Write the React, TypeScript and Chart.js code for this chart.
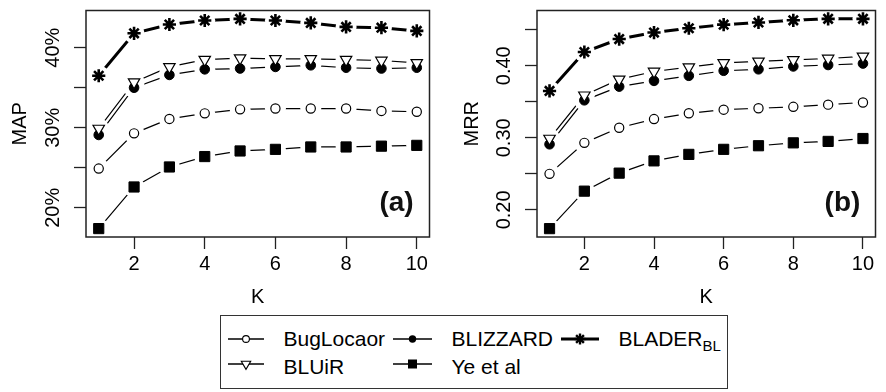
import React, { useEffect, useRef } from 'react';
import { Chart, registerables } from 'chart.js';

Chart.register(...registerables);

const FONT = '"Liberation Sans", Arial, Helvetica, sans-serif';

// ---------- data ----------
const K_VALUES = [1, 2, 3, 4, 5, 6, 7, 8, 9, 10];
const X_TICKS = [2, 4, 6, 8, 10];
const X_TITLE = 'K';

const SERIES_NAMES = ['BugLocaor', 'BLUiR', 'BLIZZARD', 'Ye et al', 'BLADER'];

const MAP_BUGLOCATOR = [24.9, 29.3, 31.1, 31.8, 32.3, 32.4, 32.4, 32.4, 32.1, 32.0];
const MAP_BLUIR = [29.9, 35.7, 37.6, 38.5, 38.7, 38.6, 38.6, 38.5, 38.4, 38.1];
const MAP_BLIZZARD = [29.1, 35.0, 36.6, 37.3, 37.4, 37.6, 37.8, 37.5, 37.4, 37.5];
const MAP_YE = [17.4, 22.6, 25.1, 26.4, 27.1, 27.3, 27.6, 27.6, 27.7, 27.8];
const MAP_BLADER = [36.5, 41.8, 42.9, 43.4, 43.6, 43.4, 43.1, 42.6, 42.5, 42.1];

const MRR_BUGLOCATOR = [0.25, 0.293, 0.314, 0.326, 0.334, 0.339, 0.341, 0.343, 0.346, 0.349];
const MRR_BLUIR = [0.299, 0.359, 0.381, 0.392, 0.398, 0.404, 0.406, 0.408, 0.41, 0.413];
const MRR_BLIZZARD = [0.291, 0.352, 0.371, 0.379, 0.386, 0.393, 0.395, 0.399, 0.401, 0.403];
const MRR_YE = [0.174, 0.226, 0.251, 0.268, 0.277, 0.284, 0.289, 0.293, 0.295, 0.299];
const MRR_BLADER = [0.365, 0.419, 0.437, 0.446, 0.452, 0.457, 0.46, 0.463, 0.465, 0.465];

const MAP_TICKS = [20, 25, 30, 35, 40];
const MAP_TICK_LABELS = ['20%', '', '30%', '', '40%'];
const MRR_TICKS = [0.2, 0.25, 0.3, 0.35, 0.4, 0.45];
const MRR_TICK_LABELS = ['0.20', '', '0.30', '', '0.40', ''];

const MAP_TITLE = 'MAP';
const MRR_TITLE = 'MRR';
const PANEL_A = '(a)';
const PANEL_B = '(b)';

// ---------- styles ----------
const STYLES = [
  { pointStyle: 'circle', radius: 4.6, fill: '#ffffff', pw: 1.2, lw: 1.2, rot: 0 },
  { pointStyle: 'triangle', radius: 6.6, fill: '#ffffff', pw: 1.2, lw: 1.2, rot: 180 },
  { pointStyle: 'circle', radius: 4.8, fill: '#000000', pw: 1, lw: 1.2, rot: 0 },
  { pointStyle: 'rect', radius: 7.2, fill: '#000000', pw: 1, lw: 1.2, rot: 0 },
  { pointStyle: 'star', radius: 6.6, fill: '#000000', pw: 2.6, lw: 3, rot: 0 },
];

// R "type = b": lines stop short of each point; emulated by a white halo layer
// drawn between the lines and the markers.
const GAP = 10.5;

const boxPlugin = {
  id: 'box',
  afterDatasetsDraw(chart: any, _args: any, opts: any) {
    const { ctx, chartArea: a } = chart;
    ctx.save();
    ctx.strokeStyle = '#222';
    ctx.lineWidth = 1.5;
    ctx.strokeRect(a.left, a.top, a.right - a.left, a.bottom - a.top);
    ctx.font = `bold 28px ${FONT}`;
    ctx.fillStyle = '#111';
    ctx.textAlign = 'center';
    ctx.textBaseline = 'middle';
    ctx.fillText(opts.label, a.right - 33, a.bottom - 34);
    ctx.restore();
  },
};

interface PanelCfg {
  series: number[][];
  yMin: number;
  yMax: number;
  yTicks: number[];
  yLabels: string[];
  yTitle: string;
  yTitlePad: number;
  yWidth: number;
  padRight: number;
  panel: string;
}

function makeChart(canvas: HTMLCanvasElement, cfg: PanelCfg) {
  const pts = (vals: number[]) => K_VALUES.map((k, j) => ({ x: k, y: vals[j] }));
  const lines = cfg.series.map((vals, i) => ({
    label: SERIES_NAMES[i],
    data: pts(vals),
    order: 3,
    borderColor: '#000',
    borderWidth: STYLES[i].lw,
    pointRadius: 0,
    fill: false,
    tension: 0,
    clip: false as any,
  }));
  const halos = cfg.series.map((vals, i) => ({
    label: SERIES_NAMES[i] + ' halo',
    data: pts(vals),
    order: 2,
    showLine: false,
    pointStyle: 'circle' as any,
    pointRadius: GAP,
    pointBackgroundColor: '#ffffff',
    pointBorderWidth: 0,
    clip: false as any,
  }));
  const markers = cfg.series.map((vals, i) => ({
    label: SERIES_NAMES[i] + ' marks',
    data: pts(vals),
    order: 1,
    showLine: false,
    pointStyle: STYLES[i].pointStyle as any,
    pointRadius: STYLES[i].radius,
    pointRotation: STYLES[i].rot,
    pointBackgroundColor: STYLES[i].fill,
    pointBorderColor: '#000',
    pointBorderWidth: STYLES[i].pw,
    clip: false as any,
  }));
  return new Chart(canvas, {
    type: 'line',
    data: { datasets: [...lines, ...halos, ...markers] },
    options: {
      responsive: false,
      animation: false,
      devicePixelRatio: 1,
      events: [],
      layout: { padding: { left: 0, top: 3, right: cfg.padRight, bottom: 0 } },
      plugins: {
        legend: { display: false },
        tooltip: { enabled: false },
        box: { label: cfg.panel },
      } as any,
      scales: {
        x: {
          type: 'linear',
          min: 0.64,
          max: 10.36,
          afterBuildTicks: (s: any) => {
            s.ticks = X_TICKS.map((v) => ({ value: v }));
          },
          afterFit: (s: any) => {
            s.height = 75;
            s.paddingLeft = 0;
            s.paddingRight = 0;
          },
          grid: {
            display: true,
            drawOnChartArea: false,
            drawTicks: true,
            tickLength: 12,
            tickColor: '#222',
            tickWidth: 1.3,
          },
          border: { display: false },
          ticks: {
            autoSkip: false,
            maxRotation: 0,
            padding: 3,
            color: '#000',
            font: { family: FONT, size: 20 },
            callback: (v: any) => String(v),
          },
          title: {
            display: true,
            text: X_TITLE,
            color: '#000',
            font: { family: FONT, size: 20 },
            padding: { top: 0, bottom: 3 },
          },
        },
        y: {
          type: 'linear',
          min: cfg.yMin,
          max: cfg.yMax,
          afterBuildTicks: (s: any) => {
            s.ticks = cfg.yTicks.map((v) => ({ value: v }));
          },
          afterFit: (s: any) => {
            s.width = cfg.yWidth;
            s.paddingTop = 0;
            s.paddingBottom = 0;
          },
          grid: {
            display: true,
            drawOnChartArea: false,
            drawTicks: true,
            tickLength: 12,
            tickColor: '#222',
            tickWidth: 1.3,
          },
          border: { display: false },
          ticks: {
            autoSkip: false,
            minRotation: 90,
            maxRotation: 90,
            crossAlign: 'center',
            padding: 1,
            color: '#000',
            font: { family: FONT, size: 20 },
            callback: (_v: any, i: number) => cfg.yLabels[i],
          },
          title: {
            display: true,
            text: cfg.yTitle,
            color: '#000',
            font: { family: FONT, size: 20 },
            padding: { top: cfg.yTitlePad, bottom: 0 },
          },
        },
      },
    } as any,
    plugins: [boxPlugin],
  });
}

// ---------- legend ----------
const LEG_LEFT = 220;
const LEG_TOP = 315;
const LEG_W = 508;
const LEG_H = 74;
const COL_LINE = [8, 173, 341];
const COL_LINE_LEN = [36, 39, 38];
const COL_TEXT = [64, 232, 399];
const ROW_LINE_Y = [24, 49];
const ROW_TEXT_Y = [24, 52];
const LEG_POS = [
  { col: 0, row: 0 },
  { col: 0, row: 1 },
  { col: 1, row: 0 },
  { col: 1, row: 1 },
  { col: 2, row: 0 },
];

function Marker({ kind, cx, cy }: { kind: number; cx: number; cy: number }) {
  if (kind === 0) return <circle cx={cx} cy={cy} r={3.4} fill="#fff" stroke="#000" strokeWidth={1.1} />;
  if (kind === 1)
    return (
      <polygon
        points={`${cx},${cy + 5.4} ${cx - 4.7},${cy - 2.7} ${cx + 4.7},${cy - 2.7}`}
        fill="#fff"
        stroke="#000"
        strokeWidth={1.1}
      />
    );
  if (kind === 2) return <circle cx={cx} cy={cy} r={3.7} fill="#000" />;
  if (kind === 3) return <rect x={cx - 4.5} y={cy - 4.5} width={9} height={9} fill="#000" />;
  const r = 5.5;
  const d = r * Math.SQRT1_2;
  return (
    <g stroke="#000" strokeWidth={2.4}>
      <line x1={cx - r} y1={cy} x2={cx + r} y2={cy} />
      <line x1={cx} y1={cy - r} x2={cx} y2={cy + r} />
      <line x1={cx - d} y1={cy - d} x2={cx + d} y2={cy + d} />
      <line x1={cx - d} y1={cy + d} x2={cx + d} y2={cy - d} />
    </g>
  );
}

function Legend() {
  return (
    <div
      style={{
        position: 'absolute',
        left: LEG_LEFT,
        top: LEG_TOP,
        width: LEG_W,
        height: LEG_H,
        border: '1.5px solid #333',
        boxSizing: 'border-box',
        background: '#fff',
      }}
    >
      <svg width={LEG_W} height={LEG_H} style={{ position: 'absolute', left: -1.5, top: -1.5 }}>
        {LEG_POS.map((p, i) => {
          const x0 = COL_LINE[p.col];
          const x1 = x0 + COL_LINE_LEN[p.col];
          const y = ROW_LINE_Y[p.row];
          return (
            <g key={i}>
              <line x1={x0} y1={y} x2={x1} y2={y} stroke="#000" strokeWidth={i === 4 ? 3 : 1.3} />
              <Marker kind={i} cx={(x0 + x1) / 2} cy={y} />
            </g>
          );
        })}
      </svg>
      {LEG_POS.map((p, i) => (
        <div
          key={i}
          style={{
            position: 'absolute',
            left: COL_TEXT[p.col] - 1.5,
            top: ROW_TEXT_Y[p.row] - 12 - 1.5,
            height: 24,
            lineHeight: '24px',
            fontFamily: FONT,
            fontSize: 21,
            color: '#000',
            whiteSpace: 'nowrap',
          }}
        >
          {SERIES_NAMES[i]}
          {i === 4 ? (
            <span style={{ fontSize: 15, position: 'relative', top: 5 }}>BL</span>
          ) : null}
        </div>
      ))}
    </div>
  );
}

export default function App() {
  const leftRef = useRef<HTMLCanvasElement>(null);
  const rightRef = useRef<HTMLCanvasElement>(null);

  useEffect(() => {
    const a = makeChart(leftRef.current!, {
      series: [MAP_BUGLOCATOR, MAP_BLUIR, MAP_BLIZZARD, MAP_YE, MAP_BLADER],
      yMin: 16.35,
      yMax: 44.65,
      yTicks: MAP_TICKS,
      yLabels: MAP_TICK_LABELS,
      yTitle: MAP_TITLE,
      yTitlePad: 8,
      yWidth: 86,
      padRight: 8,
      panel: PANEL_A,
    });
    const b = makeChart(rightRef.current!, {
      series: [MRR_BUGLOCATOR, MRR_BLUIR, MRR_BLIZZARD, MRR_YE, MRR_BLADER],
      yMin: 0.1624,
      yMax: 0.4766,
      yTicks: MRR_TICKS,
      yLabels: MRR_TICK_LABELS,
      yTitle: MRR_TITLE,
      yTitlePad: 20,
      yWidth: 97,
      padRight: 2,
      panel: PANEL_B,
    });
    return () => {
      a.destroy();
      b.destroy();
    };
  }, []);

  return (
    <div
      style={{
        position: 'absolute',
        left: 0,
        top: 0,
        width: 886,
        height: 392,
        background: '#fff',
        overflow: 'hidden',
      }}
    >
      <canvas
        ref={leftRef}
        width={440}
        height={312}
        style={{ position: 'absolute', left: 0, top: 0, width: 440, height: 312 }}
      />
      <canvas
        ref={rightRef}
        width={446}
        height={312}
        style={{ position: 'absolute', left: 440, top: 0, width: 446, height: 312 }}
      />
      <Legend />
    </div>
  );
}
